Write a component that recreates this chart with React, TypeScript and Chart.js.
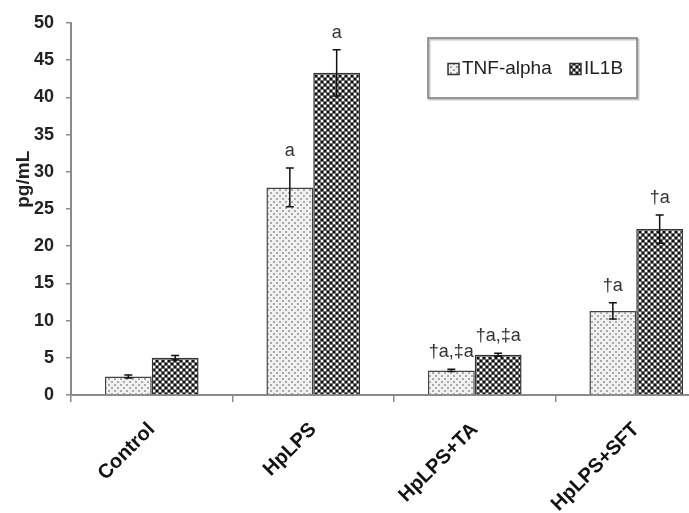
import { useEffect, useRef } from "react";
import { Chart, registerables } from "chart.js";

Chart.register(...registerables);

const categories = ["Control", "HpLPS", "HpLPS+TA", "HpLPS+SFT"];
const tnfValues = [2.5, 27.9, 3.3, 11.3];
const tnfErrors = [0.2, 2.6, 0.15, 1.1];
const il1bValues = [5.0, 43.3, 5.4, 22.3];
const il1bErrors = [0.3, 3.1, 0.2, 1.9];
const tnfMarks = ["", "a", "†a,‡a", "†a"];
const il1bMarks = ["", "a", "†a,‡a", "†a"];
const seriesLabels = ["TNF-alpha", "IL1B"];
const yMin = 0;
const yMax = 50;
const yStep = 5;
const yTitle = "pg/mL";

const FONT = "'Liberation Sans', Arial, Helvetica, sans-serif";

function makePattern(kind: "light" | "dark"): CanvasPattern | string {
  const c = document.createElement("canvas");
  c.width = 6;
  c.height = 6;
  const g = c.getContext("2d");
  if (!g) return kind === "light" ? "#ddd" : "#555";
  if (kind === "light") {
    g.fillStyle = "#f2f2f2";
    g.fillRect(0, 0, 6, 6);
    g.fillStyle = "#aaaaaa";
    g.fillRect(0, 0, 2, 2);
    g.fillRect(3, 3, 2, 2);
  } else {
    g.fillStyle = "#6e6e6e";
    g.fillRect(0, 0, 6, 6);
    g.fillStyle = "#111";
    g.fillRect(0, 0, 2, 2);
    g.fillRect(3, 3, 2, 2);
    g.fillStyle = "#fafafa";
    g.fillRect(3, 0, 2, 2);
    g.fillRect(0, 3, 2, 2);
  }
  const p = g.createPattern(c, "repeat");
  return p || (kind === "light" ? "#ddd" : "#555");
}

const errorsBySet = [tnfErrors, il1bErrors];
const marksBySet = [tnfMarks, il1bMarks];

const errorBarPlugin = {
  id: "errorBars",
  afterDatasetsDraw(chart: any) {
    const ctx = chart.ctx;
    const ys = chart.scales.y;
    chart.data.datasets.forEach((ds: any, di: number) => {
      const meta = chart.getDatasetMeta(di);
      meta.data.forEach((bar: any, i: number) => {
        const v = ds.data[i] as number;
        const e = errorsBySet[di][i];
        const top = ys.getPixelForValue(v + e);
        const bot = ys.getPixelForValue(v - e);
        ctx.save();
        ctx.strokeStyle = "#111";
        ctx.lineWidth = 1.5;
        ctx.beginPath();
        ctx.moveTo(bar.x, top);
        ctx.lineTo(bar.x, bot);
        ctx.moveTo(bar.x - 4, top);
        ctx.lineTo(bar.x + 4, top);
        ctx.moveTo(bar.x - 4, bot);
        ctx.lineTo(bar.x + 4, bot);
        ctx.stroke();
        const m = marksBySet[di][i];
        if (m) {
          ctx.fillStyle = "#333";
          ctx.font = `18px ${FONT}`;
          ctx.textAlign = "center";
          ctx.textBaseline = "bottom";
          ctx.fillText(m, bar.x, top - 8);
        }
        ctx.restore();
      });
    });
  },
};

const boxLegendPlugin = {
  id: "boxLegend",
  afterDraw(chart: any) {
    const ctx = chart.ctx;
    const left = 428;
    const top = 38;
    const w = 209;
    const h = 60;
    ctx.save();
    ctx.fillStyle = "#fff";
    ctx.fillRect(left, top, w, h);
    ctx.strokeStyle = "#c8c8c8";
    ctx.lineWidth = 2;
    ctx.strokeRect(left + 1.5, top + 1.5, w, h);
    ctx.strokeStyle = "#7a7a7a";
    ctx.lineWidth = 1.5;
    ctx.strokeRect(left, top, w, h);
    const cy = top + h / 2 + 1;
    const entries = [
      { x: 448, label: chart.data.datasets[0].label, bg: chart.data.datasets[0].backgroundColor },
      { x: 570, label: chart.data.datasets[1].label, bg: chart.data.datasets[1].backgroundColor },
    ];
    ctx.font = `19px ${FONT}`;
    ctx.textBaseline = "middle";
    ctx.textAlign = "left";
    entries.forEach((en) => {
      ctx.fillStyle = en.bg;
      ctx.fillRect(en.x, cy - 5.5, 11, 11);
      ctx.strokeStyle = "#333";
      ctx.lineWidth = 1.5;
      ctx.strokeRect(en.x, cy - 5.5, 11, 11);
      ctx.fillStyle = "#222";
      ctx.fillText(en.label, en.x + 14, cy);
    });
    ctx.restore();
  },
};

const yTitlePlugin = {
  id: "yTitleCustom",
  afterDraw(chart: any) {
    const ctx = chart.ctx;
    const ys = chart.scales.y;
    ctx.save();
    ctx.translate(24, ys.getPixelForValue(29));
    ctx.rotate(-Math.PI / 2);
    ctx.font = `bold 19px ${FONT}`;
    ctx.fillStyle = "#222";
    ctx.textAlign = "center";
    ctx.textBaseline = "middle";
    ctx.fillText(yTitle, 0, 0);
    ctx.restore();
  },
};

export default function App() {
  const ref = useRef<HTMLCanvasElement | null>(null);
  useEffect(() => {
    if (!ref.current) return;
    const chart = new Chart(ref.current, {
      type: "bar",
      data: {
        labels: categories,
        datasets: [
          {
            label: seriesLabels[0],
            data: tnfValues,
            backgroundColor: makePattern("light") as any,
            borderColor: "#444",
            borderWidth: 1.5,
            categoryPercentage: 0.58,
            barPercentage: 1,
          },
          {
            label: seriesLabels[1],
            data: il1bValues,
            backgroundColor: makePattern("dark") as any,
            borderColor: "#333",
            borderWidth: 1.5,
            categoryPercentage: 0.58,
            barPercentage: 1,
          },
        ],
      },
      options: {
        responsive: false,
        animation: false,
        devicePixelRatio: 1,
        layout: { padding: { left: 0, right: 23, top: 23, bottom: 0 } },
        plugins: {
          legend: { display: false },
          tooltip: { enabled: false },
        },
        scales: {
          x: {
            grid: {
              display: true,
              drawOnChartArea: false,
              drawTicks: true,
              tickLength: 7,
              color: "#8a8a8a",
              lineWidth: 1.5,
              offset: true,
            },
            border: { display: true, color: "#8a8a8a", width: 2 },
            ticks: {
              minRotation: 45,
              maxRotation: 45,
              autoSkip: false,
              padding: 16,
              color: "#111",
              font: { family: FONT, size: 20, weight: "bold" },
            },
            afterFit: (s: any) => {
              s.height = 118;
            },
          },
          y: {
            min: yMin,
            max: yMax,
            grid: {
              display: true,
              drawOnChartArea: false,
              drawTicks: true,
              tickLength: 5,
              color: "#8a8a8a",
              lineWidth: 1.5,
            },
            border: { display: true, color: "#8a8a8a", width: 2 },
            ticks: {
              stepSize: yStep,
              padding: 12,
              color: "#222",
              font: { family: FONT, size: 18, weight: "bold" },
            },
            afterFit: (s: any) => {
              s.width = 71;
            },
          },
        },
      },
      plugins: [errorBarPlugin, boxLegendPlugin, yTitlePlugin],
    });
    return () => chart.destroy();
  }, []);
  return (
    <div
      style={{
        position: "fixed",
        left: 0,
        top: 0,
        width: 689,
        height: 513,
        overflow: "hidden",
        background: "#fff",
      }}
    >
      <canvas ref={ref} width={740} height={513} style={{ display: "block" }} />
    </div>
  );
}
